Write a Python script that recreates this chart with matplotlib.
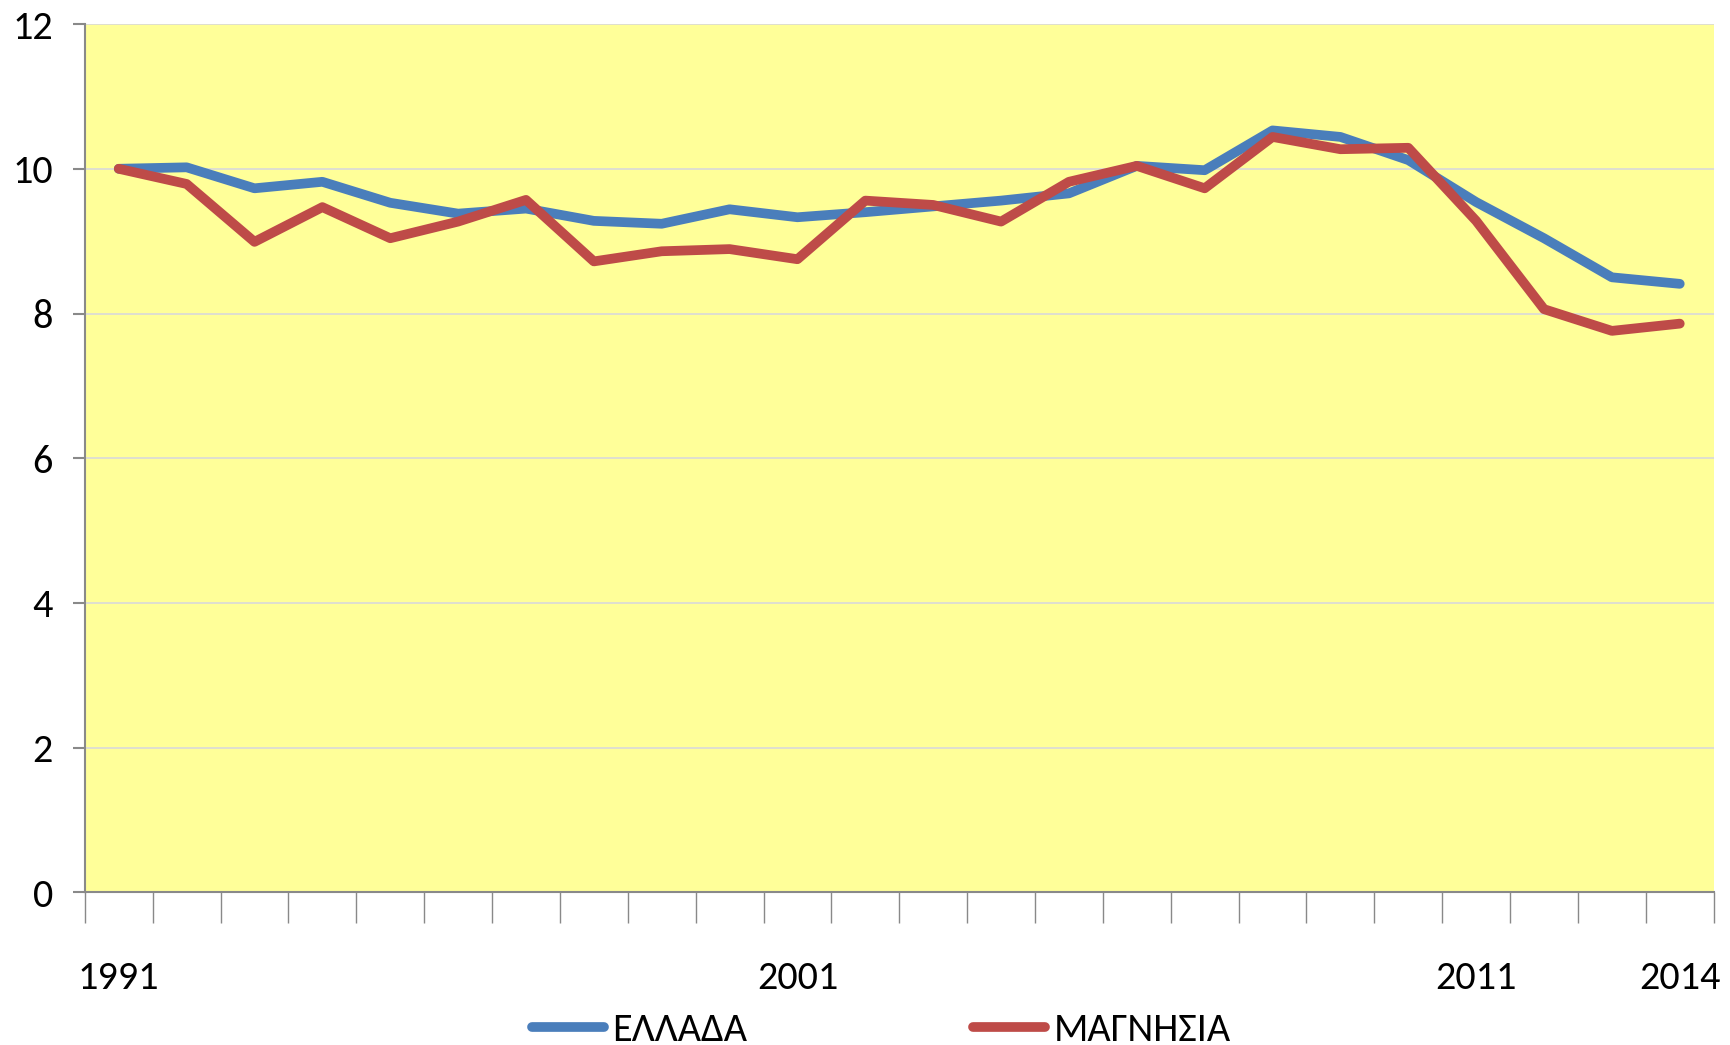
import matplotlib.pyplot as plt
import numpy as np

# Στοιχεία (δείκτης ανά έτος)
years = list(range(1991, 2015))
ellada = [10.0, 10.02, 9.73, 9.82, 9.53, 9.38, 9.45, 9.28, 9.24, 9.44,
          9.33, 9.40, 9.48, 9.56, 9.66, 10.04, 9.98, 10.53, 10.44, 10.12,
          9.54, 9.04, 8.50, 8.41]
magnisia = [10.0, 9.79, 8.99, 9.47, 9.04, 9.27, 9.57, 8.72, 8.86, 8.89,
            8.75, 9.56, 9.50, 9.27, 9.82, 10.04, 9.73, 10.44, 10.27, 10.29,
            9.28, 8.06, 7.76, 7.86]
shown_years = [1991, 2001, 2011, 2014]

plt.rcParams['font.family'] = ['Carlito', 'DejaVu Sans']

fig = plt.figure(figsize=(17.31, 10.45), dpi=100)
ax = fig.add_axes([0.049, 0.146, 0.941, 0.831])

x = np.arange(len(years))
ax.plot(x, ellada, color='#4A7EBB', lw=7, label='ΕΛΛΑΔΑ', solid_capstyle='round')
ax.plot(x, magnisia, color='#BE4B48', lw=7, label='ΜΑΓΝΗΣΙΑ', solid_capstyle='round')

ax.set_facecolor('#FFFF99')
ax.set_xlim(-0.5, len(years) - 0.5)
ax.set_ylim(0, 12)
ax.set_yticks(range(0, 13, 2))
ax.grid(axis='y', color='#D9D9D9', lw=1.2)
ax.set_axisbelow(True)

for s in ['top', 'right']:
    ax.spines[s].set_visible(False)
for s in ['left', 'bottom']:
    ax.spines[s].set_color('#898989')
    ax.spines[s].set_linewidth(1.5)

# ticks στα όρια των κατηγοριών, ετικέτες μόνο σε επιλεγμένα έτη
ax.set_xticks(np.arange(len(years) + 1) - 0.5)
ax.set_xticklabels([])
ax.tick_params(axis='x', which='major', length=22, width=1, color='#898989', direction='out')
ax.set_xticks([years.index(y) for y in shown_years], minor=True)
ax.set_xticklabels([str(y) for y in shown_years], minor=True)
ax.tick_params(axis='x', which='minor', length=0, pad=49, labelsize=29)
ax.tick_params(axis='y', length=9, width=1.5, color='#898989', labelsize=29, pad=14)

fig.legend(loc='center', bbox_to_anchor=(0.509, 0.014), ncol=2, frameon=False,
           fontsize=29, handlelength=1.8, handletextpad=0.2, columnspacing=5.6)

fig.savefig('out.png', dpi=100)
